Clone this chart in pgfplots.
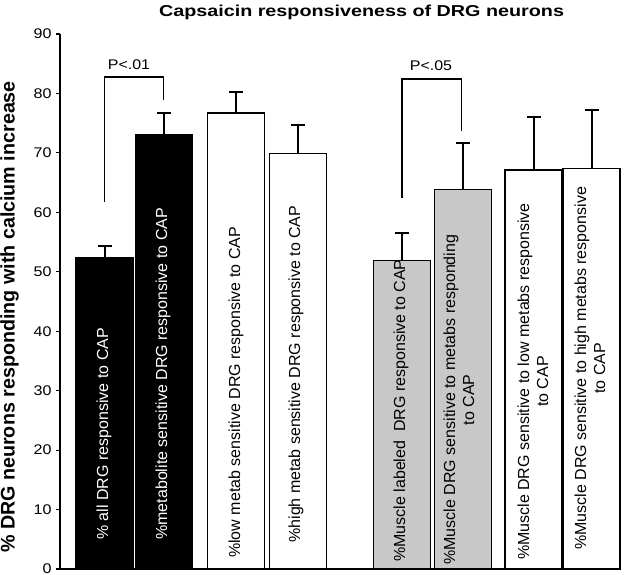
\documentclass[border=0pt]{standalone}
\usepackage{fontspec}
\setmainfont{Liberation Sans}
\usepackage{pgfplots}
\pgfplotsset{compat=1.18}
\definecolor{barGrey}{RGB}{200,200,200}
\begin{document}
\begin{tikzpicture}
\begin{axis}[
  at={(60pt,5pt)}, anchor=south west,
  scale only axis, width=533pt, height=535pt,
  xmin=60, xmax=593, ymin=0, ymax=90,
  axis x line=bottom, axis y line=left,
  axis line style={-, line width=1.5pt},
  xtick=\empty,
  ytick={0,10,...,90},
  tick align=outside, major tick length=4pt,
  tick style={line width=1.2pt, black},
  /pgf/number format/assume math mode=true,
  yticklabel style={font=\fontsize{14}{16}\selectfont, xshift=-1pt},
  yticklabel={\scalebox{1.15}[1]{\pgfmathprintnumber{\tick}}},
  clip=false,
  title={\scalebox{1.25}[1]{\fontsize{15.8}{18}\selectfont\bfseries Capsaicin responsiveness of DRG neurons}},
  title style={at={(axis description cs:0.5657,1.0336)}, anchor=base, yshift=-6pt},
  ylabel={\fontsize{19.7}{22}\selectfont\bfseries \% DRG neurons responding with calcium increase},
  ylabel style={at={(axis description cs:-0.0945,0.471)}, anchor=center},
  error bars/error bar style={line width=2pt, black},
  error bars/error mark options={rotate=90, line width=2pt, mark size=7pt, black},
]
% black bars
\addplot[ybar, bar shift=0pt, bar width=57, fill=black, draw=black, line width=1.3pt,
  error bars/.cd, y dir=plus, y explicit]
  coordinates {(104.5,52.4) +- (0,1.9) (164,73.0) +- (0,3.7)};
% white bars
\addplot[ybar, bar shift=0pt, bar width=57, fill=white, draw=black, line width=1.3pt,
  error bars/.cd, y dir=plus, y explicit]
  coordinates {(236,76.7) +- (0,3.5) (298,69.9) +- (0,4.8) (533.5,67.1) +- (0,9.0) (591.5,67.4) +- (0,9.8)};
% grey bars
\addplot[ybar, bar shift=0pt, bar width=57, fill=barGrey, draw=black, line width=1.3pt,
  error bars/.cd, y dir=plus, y explicit]
  coordinates {(402,51.9) +- (0,4.6) (463,63.8) +- (0,7.9)};

% significance brackets
\draw[line width=1.5pt] (axis cs:104.5,61.8) -- (axis cs:104.5,82.8) -- (axis cs:163.5,82.8) -- (axis cs:163.5,78.9);
\draw[line width=1.5pt] (axis cs:402,62.4) -- (axis cs:402,82.4) -- (axis cs:461.5,82.4) -- (axis cs:461.5,73.7);
\node[anchor=base, inner sep=0pt, font=\fontsize{14}{16}\selectfont] at (axis cs:129,83.95) {\scalebox{1.14}[1]{P<.01}};
\node[anchor=base, inner sep=0pt, font=\fontsize{14}{16}\selectfont] at (axis cs:431,83.8) {\scalebox{1.14}[1]{P<.05}};

% bar labels
\tikzset{barlab/.style={rotate=90, anchor=west, inner sep=0pt, align=center, font=\fontsize{16}{19}\selectfont}}
\node[barlab, text=white] at (axis cs:104,4.9) {\% all DRG responsive to CAP};
\node[barlab, text=white] at (axis cs:163,4.9) {\%metabolite sensitive DRG responsive to CAP};
\node[barlab] at (axis cs:236,1.85) {\%low metab sensitive DRG responsive to CAP};
\node[barlab] at (axis cs:296,4.4) {\%high metab sensitive DRG responsive to CAP};
\node[barlab] at (axis cs:401,1.2) {\%Muscle labeled~ DRG responsive to CAP};
\node[barlab] at (axis cs:459,0.7) {\%Muscle DRG sensitive to metabs responding\\to CAP};
\node[barlab] at (axis cs:533,1.5) {\%Muscle DRG sensitive to low metabs responsive\\to CAP};
\node[barlab] at (axis cs:590,3.2) {\%Muscle DRG sensitive to high metabs responsive\\to CAP};
\end{axis}
\pgfresetboundingbox
\path (0,0) rectangle (640pt,574pt);
\end{tikzpicture}
\end{document}
